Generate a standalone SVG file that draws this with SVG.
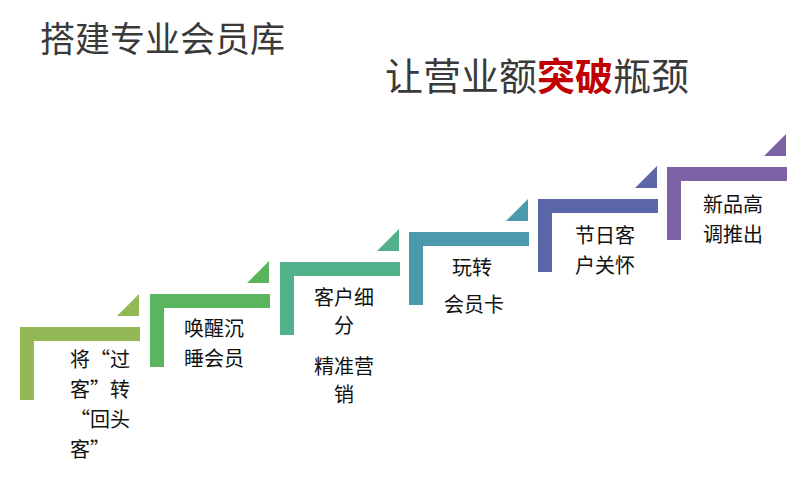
<svg xmlns="http://www.w3.org/2000/svg" width="800" height="484" viewBox="0 0 800 484">
<style>
text{font-family:"Noto Sans CJK SC","Liberation Sans",sans-serif;fill:#111}
.t{font-size:20px;text-anchor:middle}
.h{fill:#3a3a3a}
</style>
<defs>
<g id="step"><path d="M0,0 H120 V14 H14 V73 H0 Z"/><path d="M97,-11 L119,-33 V-11 Z"/></g>
</defs>
<rect width="800" height="484" fill="#fff"/>
<text class="h" x="40" y="52" font-size="35">搭建专业会员库</text>
<text class="h" x="385" y="90" font-size="38">让营业额<tspan fill="#c00000" font-weight="bold">突破</tspan>瓶颈</text>
<g id="connectors"></g>
<g id="n1"><use href="#step" x="20" y="327" fill="#93b956"/>
<text class="t"><tspan x="100" y="367">将“过</tspan><tspan x="100" y="397">客”转</tspan><tspan x="100" y="427">“回头</tspan><tspan x="90" y="457">客”</tspan></text></g>
<g id="n2"><use href="#step" x="150" y="294" fill="#5ab55e"/>
<text class="t"><tspan x="214" y="336">唤醒沉</tspan><tspan x="214" y="366">睡会员</tspan></text></g>
<g id="n3"><use href="#step" x="280" y="262" fill="#52b08a"/>
<text class="t"><tspan x="344" y="305">客户细</tspan><tspan x="344" y="333">分</tspan><tspan x="344" y="374">精准营</tspan><tspan x="344" y="402">销</tspan></text></g>
<g id="n4"><use href="#step" x="409" y="232" fill="#4b9aab"/>
<text class="t"><tspan x="472" y="275">玩转</tspan><tspan x="474" y="312">会员卡</tspan></text></g>
<g id="n5"><use href="#step" x="538" y="199" fill="#5a66a8"/>
<text class="t"><tspan x="605" y="243">节日客</tspan><tspan x="605" y="273">户关怀</tspan></text></g>
<g id="n6"><use href="#step" x="667" y="167" fill="#7e62a6"/>
<text class="t"><tspan x="733" y="212">新品高</tspan><tspan x="733" y="242">调推出</tspan></text></g>
</svg>
